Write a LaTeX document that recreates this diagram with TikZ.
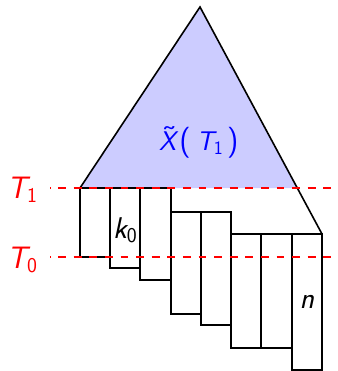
\documentclass[tikz,border=0pt]{standalone}
\usepackage{fontspec}
\usepackage{graphicx}
\newcommand\sbs[3]{{\itshape #1}\raisebox{-0.14em}{\fontsize{#3}{#3}\selectfont\upshape #2}}
\newcommand\tildeX{\makebox[0pt][l]{\kern0.08em\raisebox{0.25em}{\scalebox{1.25}[1]{\char"02DC}}}{\itshape X}}
\newcommand\bigpar[1]{{\fontsize{31}{31}\selectfont #1}}
\begin{document}
\begin{tikzpicture}[x=1pt,y=-1pt,
  blk/.style={draw=black,line width=1.6pt,line join=miter},
  tl/.style={draw=red,line width=1.6pt,dash pattern=on 7.8pt off 7.8pt,dash phase=7.5pt},
  lbl/.style={font=\sffamily, inner sep=0pt, anchor=base}]
\useasboundingbox (0,0) rectangle (337,371);
\coordinate (apex) at (200,7);
\coordinate (bl) at (80,188);
\coordinate (br) at (322,234);
\coordinate (bm) at (297.3,188);
\fill[blue!20] (apex) -- (bl) -- (bm) -- cycle;
% rectangles
\draw[blk] (80,188) rectangle (110,257);
\draw[blk] (110,188) rectangle (140,268);
\draw[blk] (140,188) rectangle (171,280);
\draw[blk] (171,212) rectangle (201,314);
\draw[blk] (201,212) rectangle (231,325);
\draw[blk] (231,234) rectangle (261,348);
\draw[blk] (261,234) rectangle (292,348);
\draw[blk] (292,234) rectangle (322,370);
\draw[blk] (bl) -- (apex) -- (br);
% levels
\coordinate (l1a) at (50,188); \coordinate (l1b) at (337,188);
\coordinate (l0a) at (50,257); \coordinate (l0b) at (337,257);
\draw[tl] (l1a) -- (l1b);
\draw[tl] (l0a) -- (l0b);
\node[lbl,text=red,font=\sffamily\fontsize{31}{31}\selectfont] (t1) at (22,198) {\sbs{T}{1}{21}};
\node[lbl,text=red,font=\sffamily\fontsize{31}{31}\selectfont] (t0) at (22,268) {\sbs{T}{0}{21}};
\node[lbl,anchor=base west,text=blue,font=\sffamily\fontsize{27}{27}\selectfont] (x) at (159,151) {\tildeX\kern0.12em\bigpar{(}\kern0.22em\sbs{T}{1}{19}\kern0.16em\bigpar{)}};
\node[lbl,font=\sffamily\fontsize{30}{30}\selectfont] (k0) at (125,238) {\sbs{k}{0}{21}};
\node[lbl,font=\sffamily\fontsize{30}{30}\selectfont] (n) at (307,308) {{\itshape n}};
\end{tikzpicture}
\end{document}
